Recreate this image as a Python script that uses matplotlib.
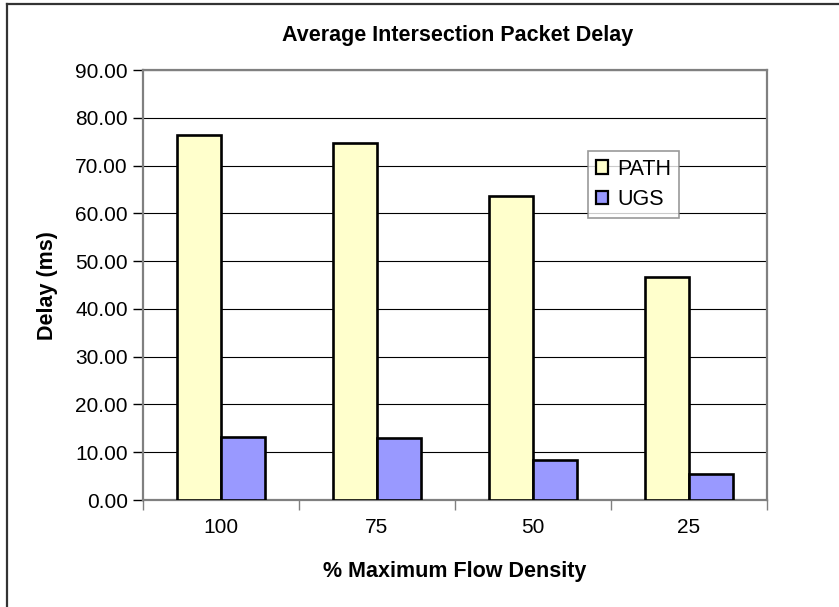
import matplotlib
matplotlib.use("Agg")
import matplotlib.pyplot as plt
import numpy as np
from matplotlib.lines import Line2D

plt.rcParams['font.family'] = ['Liberation Sans', 'DejaVu Sans']

categories = ["100", "75", "50", "25"]
path_vals = [76.4, 74.7, 63.6, 46.7]
ugs_vals = [13.1, 12.9, 8.4, 5.5]
series_names = ["PATH", "UGS"]
yticks = [0, 10, 20, 30, 40, 50, 60, 70, 80, 90]

W, H = 839, 607
fig = plt.figure(figsize=(W / 100, H / 100), dpi=100)
ax = fig.add_axes([143 / W, 1 - 500 / H, (767 - 143) / W, (500 - 70) / H])

x = np.arange(len(categories))
bw = 0.283
ax.bar(x - bw / 2, path_vals, bw, color="#FFFFCC", edgecolor="black", linewidth=1.9, label=series_names[0], zorder=3)
ax.bar(x + bw / 2, ugs_vals, bw, color="#9999FF", edgecolor="black", linewidth=1.9, label=series_names[1], zorder=3)

ax.set_xlim(-0.5, len(categories) - 0.5)
ax.set_ylim(0, 90)
ax.set_yticks(yticks)
ax.set_yticklabels([f"{v:.2f}" for v in yticks], fontsize=15)
ax.yaxis.grid(True, color="black", linewidth=0.8, zorder=0)
ax.set_axisbelow(True)

# x ticks at category boundaries, labels at centers
ax.set_xticks(np.arange(-0.5, len(categories), 1.0))
ax.set_xticklabels([])
ax.set_xticks(x, minor=True)
ax.set_xticklabels(categories, minor=True, fontsize=15)
ax.tick_params(axis="x", which="minor", length=0, pad=13)
ax.tick_params(axis="x", which="major", length=7, width=1, color="#808080", direction="out")
ax.tick_params(axis="y", length=7, width=1, color="black", direction="out", pad=4)

for s in ax.spines.values():
    s.set_color("#808080")
    s.set_linewidth(1.6)

fig.text(458 / W, 1 - 36 / H, "Average Intersection Packet Delay", ha="center", va="center",
         fontsize=15.5, fontweight="bold")
fig.text(455 / W, 1 - 572 / H, "% Maximum Flow Density", ha="center", va="center",
         fontsize=15.5, fontweight="bold")
fig.text(48 / W, 1 - 286 / H, "Delay (ms)", ha="center", va="center", rotation=90,
         fontsize=15.5, fontweight="bold")

leg = ax.legend(loc="upper left", bbox_to_anchor=(588 / W, 1 - 151 / H), bbox_transform=fig.transFigure,
                fontsize=15.5, frameon=True, fancybox=False, shadow=False, borderaxespad=0,
                handlelength=0.6, handleheight=0.6, handletextpad=0.4, labelspacing=0.45,
                borderpad=0.35)
leg.get_frame().set_edgecolor("#808080")
leg.get_frame().set_linewidth(1.2)
for h in leg.legend_handles:
    h.set_linewidth(1.6)
leg.set_zorder(5)

# outer chart frame (left and top edges visible)
fig.add_artist(Line2D([7 / W, 7 / W], [0, 1 - 4 / H], transform=fig.transFigure, color="#333333", linewidth=1.6))
fig.add_artist(Line2D([7 / W, 1], [1 - 4 / H, 1 - 4 / H], transform=fig.transFigure, color="#333333", linewidth=1.6))

fig.savefig("out.png", dpi=100)
